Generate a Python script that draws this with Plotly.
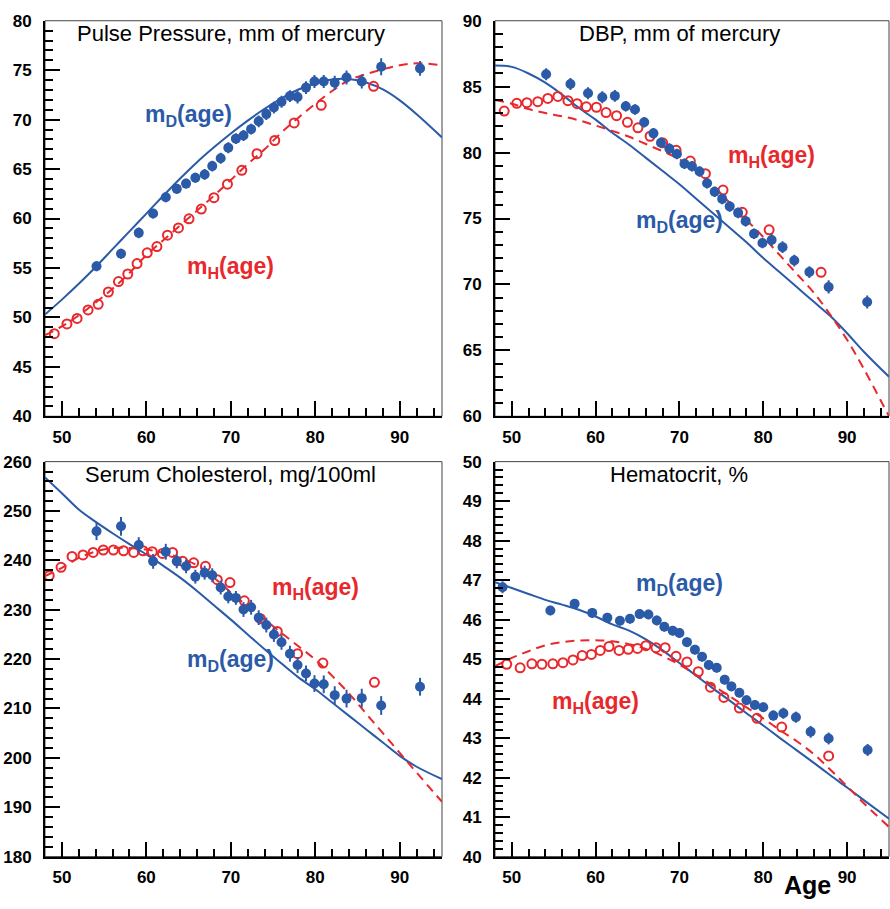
import plotly.graph_objects as go

# ---------------- data ----------------
# ages of the binned points (diseased / healthy groups)
AGE_D = [54.1, 57.0, 59.1, 60.8, 62.3, 63.6, 64.7, 65.8, 66.9, 67.8, 68.8, 69.7, 70.6, 71.5,
         72.4, 73.3, 74.2, 75.1, 76.0, 77.0, 77.9, 78.9, 79.9, 81.0, 82.3, 83.7, 85.5, 87.8, 92.4]
AGE_H = [49.1, 50.6, 51.8, 53.1, 54.3, 55.5, 56.7, 57.8, 58.9, 60.1, 61.25, 62.5, 63.8, 65.05,
         66.5, 68.0, 69.6, 71.3, 73.1, 75.2, 77.5, 80.7, 86.9]
AGE_H_CHOL = [48.5, 49.9, 51.2, 52.5, 53.7, 54.9, 56.1, 57.3, 58.5, 59.6, 60.7, 61.9, 63.1, 64.3,
              65.6, 67.0, 68.4, 69.9, 71.6, 73.5, 75.5, 77.9, 80.9, 87.0]
AGE_D_HCT = [48.9, 54.6, 57.5, 59.6, 61.4, 62.9, 64.1, 65.25, 66.3, 67.3, 68.2, 69.2, 70.0, 70.9,
             71.85, 72.7, 73.5, 74.45, 75.4, 76.2, 77.15, 78.0, 79.0, 80.0, 81.2, 82.4, 83.9,
             85.65, 87.8, 92.45]
AGE_H_HCT = [49.4, 51.0, 52.4, 53.6, 54.9, 56.1, 57.3, 58.4, 59.5, 60.55, 61.6, 62.8, 63.9, 65.0,
             66.0, 67.2, 68.3, 69.6, 70.9, 72.25, 73.7, 75.3, 77.15, 79.25, 82.2, 87.8]

# ages at which the fitted curves are tabulated
CURVE_AGE = [48, 50, 52, 54, 56, 58, 60, 62, 64, 66, 68, 70, 72, 74, 76, 78, 80, 82, 84, 86,
             88, 90, 92, 95]

# Pulse pressure
PP_D = [55.18, 56.44, 58.55, 60.5, 62.15, 63.0, 63.53, 64.13, 64.46, 65.3, 66.1, 67.16, 68.08,
        68.4, 69.04, 69.83, 70.56, 71.22, 71.81, 72.38, 72.28, 73.24, 73.86, 73.86, 73.73,
        74.26, 73.86, 75.35, 75.18]
PP_D_ERR = [0.5, 0.5, 0.55, 0.5, 0.5, 0.5, 0.5, 0.5, 0.55, 0.55, 0.55, 0.55, 0.55, 0.55, 0.55,
            0.6, 0.6, 0.6, 0.6, 0.6, 0.65, 0.65, 0.65, 0.65, 0.7, 0.7, 0.7, 0.85, 0.75]
PP_H = [48.35, 49.34, 49.9, 50.76, 51.32, 52.57, 53.63, 54.39, 55.45, 56.53, 57.16, 58.32,
        59.05, 59.97, 60.96, 62.11, 63.47, 64.88, 66.56, 67.89, 69.67, 71.45, 73.37]
PP_FIT_D = [50.3, 51.8, 53.4, 55.1, 56.9, 58.7, 60.5, 62.3, 64.05, 65.7, 67.2, 68.6, 69.9, 71.1,
            72.15, 73.05, 73.65, 74.05, 74.1, 73.75, 73.05, 71.95, 70.55, 68.2]
PP_FIT_H = [48.2, 49.1, 50.2, 51.5, 52.9, 54.5, 56.3, 57.8, 59.3, 60.8, 62.3, 63.9, 65.5, 67.0,
            68.7, 70.2, 71.6, 72.9, 74.0, 74.6, 75.1, 75.5, 75.7, 75.5]

# Diastolic blood pressure
DBP_D = [85.94, 85.2, 84.5, 84.2, 84.3, 83.52, 83.27, 82.3, 81.46, 80.74, 80.3, 79.9, 79.16,
         78.96, 78.57, 77.68, 77.03, 76.49, 75.92, 75.43, 74.8, 73.85, 73.15, 73.37, 72.83,
         71.81, 70.94, 69.81, 68.67]
DBP_D_ERR = [0.45, 0.45, 0.45, 0.45, 0.45, 0.4, 0.4, 0.4, 0.4, 0.4, 0.4, 0.4, 0.4, 0.4, 0.4,
             0.4, 0.4, 0.4, 0.4, 0.4, 0.4, 0.4, 0.4, 0.45, 0.45, 0.45, 0.45, 0.5, 0.5]
DBP_H = [83.15, 83.74, 83.79, 83.86, 84.11, 84.26, 83.94, 83.71, 83.47, 83.44, 83.04, 82.8,
         82.3, 81.88, 81.24, 80.74, 80.18, 79.36, 78.4, 77.16, 75.47, 74.14, 70.92]
DBP_FIT_D = [86.6, 86.5, 86.0, 85.3, 84.4, 83.4, 82.5, 81.5, 80.6, 79.6, 78.6, 77.6, 76.5, 75.4,
             74.3, 73.2, 72.0, 70.9, 69.8, 68.7, 67.6, 66.3, 64.9, 63.0]
DBP_FIT_H = [84.0, 83.7, 83.3, 83.0, 82.75, 82.45, 82.05, 81.65, 81.2, 80.65, 80.1, 79.5, 78.6,
             77.5, 76.2, 74.9, 73.6, 72.2, 70.8, 69.4, 67.7, 65.8, 63.6, 60.0]

# Serum cholesterol
CHOL_D = [245.9, 246.9, 243.1, 239.8, 241.75, 239.8, 238.8, 236.7, 237.5, 237.0, 234.5, 232.7,
          232.4, 230.05, 230.5, 228.4, 226.9, 225.0, 223.4, 221.1, 218.8, 217.1, 215.05, 214.9,
          212.7, 212.0, 212.1, 210.6, 214.4]
CHOL_D_ERR = [1.8, 1.9, 1.6, 1.5, 1.6, 1.4, 1.4, 1.4, 1.4, 1.4, 1.4, 1.4, 1.4, 1.5, 1.5, 1.5,
              1.5, 1.5, 1.5, 1.6, 1.6, 1.6, 1.7, 1.8, 1.8, 1.8, 1.9, 1.9, 1.8]
CHOL_H = [236.9, 238.6, 240.8, 241.1, 241.6, 242.1, 242.1, 241.95, 241.6, 241.95, 241.75, 241.4,
          241.6, 239.8, 239.5, 238.8, 236.1, 235.5, 231.8, 228.2, 225.6, 221.1, 219.2, 215.3]
CHOL_FIT_D = [256.8, 253.6, 250.3, 247.8, 245.5, 243.3, 241.2, 238.9, 236.5, 233.8, 230.9, 228.0,
              225.0, 222.0, 219.1, 216.3, 213.9, 211.2, 208.5, 205.8, 203.1, 200.4, 198.2, 195.7]
CHOL_FIT_H = [236.8, 238.5, 240.5, 241.8, 242.5, 242.5, 242.2, 241.5, 240.5, 239.0, 236.5, 233.5,
              230.7, 228.0, 225.3, 222.6, 219.9, 216.6, 213.0, 209.0, 205.0, 201.0, 197.0, 191.1]

# Hematocrit
HCT_D = [46.82, 46.23, 46.4, 46.17, 46.05, 45.97, 46.02, 46.14, 46.13, 45.98, 45.82, 45.72,
         45.66, 45.43, 45.24, 45.06, 44.85, 44.78, 44.48, 44.31, 44.15, 43.96, 43.84, 43.78,
         43.57, 43.63, 43.53, 43.16, 42.99, 42.7]
HCT_D_ERR = [0.15, 0.12, 0.12, 0.12, 0.12, 0.12, 0.12, 0.12, 0.12, 0.12, 0.12, 0.12, 0.12, 0.12,
             0.12, 0.12, 0.12, 0.12, 0.12, 0.12, 0.12, 0.12, 0.12, 0.12, 0.13, 0.14, 0.14,
             0.15, 0.15, 0.15]
HCT_H = [44.87, 44.78, 44.88, 44.87, 44.88, 44.91, 44.98, 45.09, 45.12, 45.22, 45.32, 45.22,
         45.25, 45.27, 45.34, 45.29, 45.29, 45.07, 44.93, 44.68, 44.29, 44.03, 43.76, 43.5,
         43.28, 42.55]
HCT_FIT_D = [46.95, 46.8, 46.65, 46.5, 46.38, 46.25, 46.08, 45.88, 45.72, 45.5, 45.22, 44.9,
             44.58, 44.26, 43.95, 43.63, 43.32, 43.0, 42.69, 42.38, 42.06, 41.75, 41.43, 40.96]
HCT_FIT_H = [44.82, 45.03, 45.2, 45.35, 45.43, 45.47, 45.48, 45.45, 45.38, 45.26, 45.08, 44.86,
             44.6, 44.33, 44.06, 43.78, 43.5, 43.2, 42.92, 42.6, 42.2, 41.78, 41.35, 40.75]

TITLES = ["Pulse Pressure, mm of mercury", "DBP, mm of mercury",
          "Serum Cholesterol, mg/100ml", "Hematocrit, %"]
X_TICKS = [50, 60, 70, 80, 90]
Y_TICKS = [
    [40, 45, 50, 55, 60, 65, 70, 75, 80],
    [60, 65, 70, 75, 80, 85, 90],
    [180, 190, 200, 210, 220, 230, 240, 250, 260],
    [40, 41, 42, 43, 44, 45, 46, 47, 48, 49, 50],
]
Y_RANGES = [(40, 80), (60, 90), (180, 260), (40, 50)]
Y_MINOR = [1, 1, 2, 0.2]

BLUE = "#2a5aa8"
RED = "#e8282c"
FONT = "Liberation Sans, Arial, Helvetica, sans-serif"

panels = [
    dict(age_d=AGE_D, d=PP_D, d_err=PP_D_ERR, age_h=AGE_H, h=PP_H, fit_d=PP_FIT_D, fit_h=PP_FIT_H,
         lab_d=(65, 70.4), lab_h=(70, 55.0)),
    dict(age_d=AGE_D, d=DBP_D, d_err=DBP_D_ERR, age_h=AGE_H, h=DBP_H, fit_d=DBP_FIT_D,
         fit_h=DBP_FIT_H, lab_d=(70, 74.8), lab_h=(81, 79.7)),
    dict(age_d=AGE_D, d=CHOL_D, d_err=CHOL_D_ERR, age_h=AGE_H_CHOL, h=CHOL_H, fit_d=CHOL_FIT_D,
         fit_h=CHOL_FIT_H, lab_d=(70, 219.8), lab_h=(80, 234.3)),
    dict(age_d=AGE_D_HCT, d=HCT_D, d_err=HCT_D_ERR, age_h=AGE_H_HCT, h=HCT_H, fit_d=HCT_FIT_D,
         fit_h=HCT_FIT_H, lab_d=(70, 46.9), lab_h=(60, 43.9)),
]

# panel placement (paper fractions) for a 890 x 909 page
W, H = 890, 909
X_DOMAINS = [(45 / W, 442 / W), (495 / W, 889 / W)]
Y_DOMAINS = [(1 - 416 / H, 1 - 12 / H), (1 - 865.7 / H, 1 - 462.3 / H)]


def bold(vals):
    return [f"<b>{v}</b>" for v in vals]


fig = go.Figure()
annotations = []
shapes = []

for i, p in enumerate(panels):
    n = i + 1
    xa = "x" if n == 1 else f"x{n}"
    ya = "y" if n == 1 else f"y{n}"

    fig.add_trace(go.Scatter(x=CURVE_AGE, y=p["fit_d"], mode="lines", xaxis=xa, yaxis=ya,
                             line=dict(color=BLUE, width=2, shape="spline", smoothing=1.0),
                             showlegend=False, hoverinfo="skip"))
    fig.add_trace(go.Scatter(x=CURVE_AGE, y=p["fit_h"], mode="lines", xaxis=xa, yaxis=ya,
                             line=dict(color=RED, width=2, dash="9px,6px", shape="spline",
                                       smoothing=1.0),
                             showlegend=False, hoverinfo="skip"))
    fig.add_trace(go.Scatter(x=p["age_h"], y=p["h"], mode="markers", xaxis=xa, yaxis=ya,
                             marker=dict(symbol="circle-open", size=9, color=RED,
                                         line=dict(width=2, color=RED)),
                             showlegend=False))
    fig.add_trace(go.Scatter(x=p["age_d"], y=p["d"], mode="markers", xaxis=xa, yaxis=ya,
                             marker=dict(symbol="circle", size=10, color=BLUE),
                             error_y=dict(type="data", array=p["d_err"], color=BLUE,
                                          thickness=2, width=0),
                             showlegend=False))

    col, row = i % 2, i // 2
    axis_common = dict(showline=True, linewidth=2, linecolor="black", mirror=False,
                       ticks="inside", tickwidth=2, tickcolor="black", ticklen=15,
                       showgrid=False, zeroline=False,
                       tickfont=dict(family=FONT, size=17, color="black"))
    fig.layout[f"xaxis{'' if n == 1 else n}"] = dict(
        axis_common, domain=X_DOMAINS[col], anchor=ya, range=[48, 95],
        tickmode="array", tickvals=X_TICKS, ticktext=bold(X_TICKS), ticklabelstandoff=4,
        minor=dict(ticks="inside", ticklen=8, tickwidth=1.5, tickcolor="black",
                   tick0=50, dtick=2, showgrid=False))
    lo, hi = Y_RANGES[i]
    fig.layout[f"yaxis{'' if n == 1 else n}"] = dict(
        axis_common, domain=Y_DOMAINS[row], anchor=xa, range=[lo, hi],
        tickmode="array", tickvals=Y_TICKS[i], ticktext=bold(Y_TICKS[i]), ticklabelstandoff=8,
        minor=dict(ticks="inside", ticklen=8, tickwidth=1.5, tickcolor="black",
                   tick0=lo, dtick=Y_MINOR[i], showgrid=False))

    # thin frame closing the top and right sides
    shapes.append(dict(type="rect", xref=f"{xa} domain", yref=f"{ya} domain",
                       x0=0, x1=1, y0=0, y1=1, line=dict(color="#444444", width=1),
                       layer="below"))

    annotations.append(dict(text=TITLES[i], x=70, y=hi - (hi - lo) * 0.032, xref=xa, yref=ya,
                            showarrow=False, xanchor="center", yanchor="middle",
                            font=dict(family=FONT, size=22, color="black")))
    annotations.append(dict(text="m<sub>D</sub>(age)", x=p["lab_d"][0], y=p["lab_d"][1],
                            xref=xa, yref=ya, showarrow=False, xanchor="center",
                            yanchor="middle",
                            font=dict(family=FONT, size=23, color=BLUE, weight="bold")))
    annotations.append(dict(text="m<sub>H</sub>(age)", x=p["lab_h"][0], y=p["lab_h"][1],
                            xref=xa, yref=ya, showarrow=False, xanchor="center",
                            yanchor="middle",
                            font=dict(family=FONT, size=23, color=RED, weight="bold")))

annotations.append(dict(text="<b>Age</b>", x=807 / W, y=1 - 895 / H, xref="paper",
                        yref="paper", showarrow=False, xanchor="center", yanchor="middle",
                        font=dict(family=FONT, size=25, color="black")))

fig.update_layout(width=W, height=H, margin=dict(l=0, r=0, t=0, b=0),
                  paper_bgcolor="white", plot_bgcolor="white",
                  annotations=annotations, shapes=shapes, showlegend=False)

fig.write_html("out.html", config={"displayModeBar": False})
